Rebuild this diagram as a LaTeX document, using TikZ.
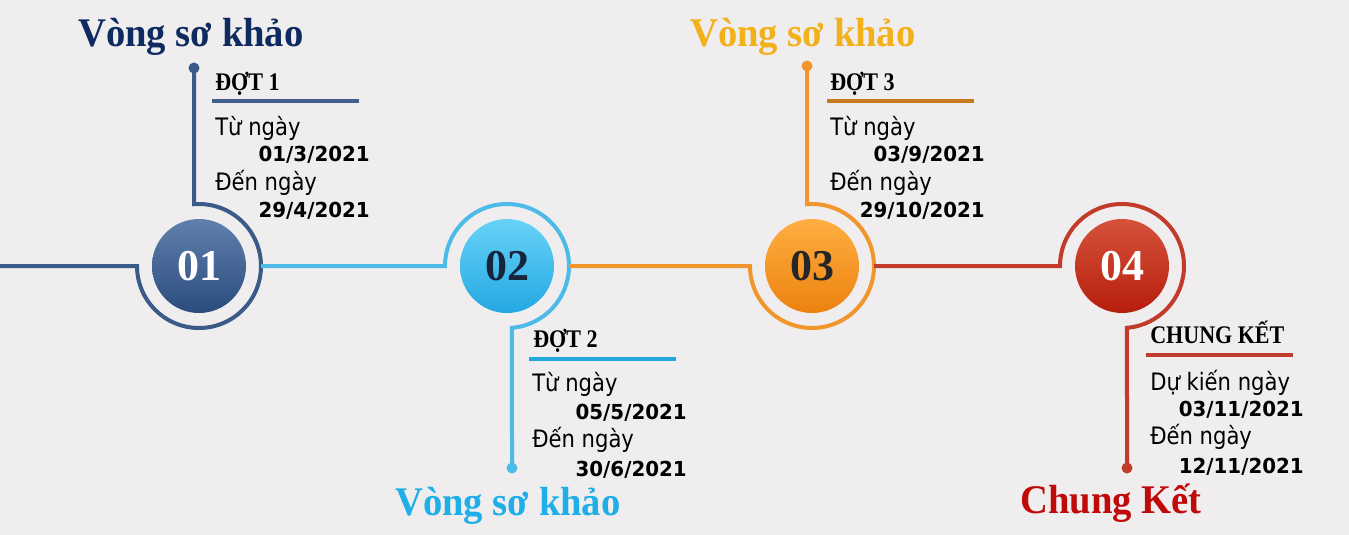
\documentclass[tikz,border=0pt]{standalone}
\usepackage{fontspec}
\setmainfont{DejaVu Sans}
\newfontfamily\serifb{Liberation Serif}
\newfontfamily\serifc[FakeStretch=0.87]{Liberation Serif}
\newfontfamily\titlef[FakeStretch=0.95]{Liberation Serif}
\newfontfamily\bodyf[FakeStretch=0.88]{DejaVu Sans}
\newfontfamily\datef[FakeStretch=0.96]{DejaVu Sans}
\usetikzlibrary{calc}
\definecolor{bgc}{HTML}{EFEDEE}
\definecolor{ca}{HTML}{3A5A88}
\definecolor{cb}{HTML}{4CBBE8}
\definecolor{cc}{HTML}{F0962C}
\definecolor{cd}{HTML}{C23A2A}
\definecolor{bara}{HTML}{3F5F8C}
\definecolor{barb}{HTML}{22A7DE}
\definecolor{barc}{HTML}{C8791F}
\definecolor{bard}{HTML}{C23A2A}
\definecolor{tta}{HTML}{0E2B60}
\definecolor{ttb}{HTML}{1EAEE8}
\definecolor{ttc}{HTML}{F2B11A}
\definecolor{ttd}{HTML}{C00A0A}
\tikzset{
  ring/.style={line width=3pt},
  bar/.style={line width=2.8pt},
  title/.style={inner sep=0pt,font=\titlef\bfseries\fontsize{30.5}{34}\selectfont},
  num/.style={circle,inner sep=0pt,minimum size=70.5pt,font=\serifb\bfseries\fontsize{33}{36}\selectfont},
  head/.style={anchor=base west,inner sep=0pt,font=\serifc\bfseries\fontsize{19}{22}\selectfont},
  body/.style={anchor=base west,inner sep=0pt,font=\bodyf\fontsize{18}{21}\selectfont},
  datetxt/.style={anchor=base east,inner sep=0pt,font=\datef\bfseries\fontsize{15.5}{19}\selectfont},
}
\begin{document}
\begin{tikzpicture}[x=0.75pt,y=-0.75pt]
\fill[bgc] (0,0) rectangle (1349,535);
\useasboundingbox (0,0) rectangle (1349,535);
% anchors
\coordinate (S) at (0,266);
\coordinate (C1) at (199,266);
\coordinate (C2) at (507,266);
\coordinate (C3) at (812,266);
\coordinate (C4) at (1122,266);
\coordinate (D1) at (194,68);
\coordinate (D2) at (512,468);
\coordinate (D3) at (807,66);
\coordinate (D4) at (1127,468);
% rings and connectors
\draw[ring,ca] (S) -- ($(C1)+(180:62)$) arc[start angle=180,end angle=-94.6,radius=62] -- (D1);
\draw[ring,cb] ($(C1)+(0:62)$) -- ($(C2)+(180:62)$) arc[start angle=180,end angle=445.4,radius=62] -- (D2);
\draw[ring,cc] ($(C2)+(0:62)$) -- ($(C3)+(180:62)$) arc[start angle=180,end angle=-94.6,radius=62] -- (D3);
\draw[ring,cd] ($(C3)+(0:62)$) -- ($(C4)+(180:62)$) arc[start angle=180,end angle=445.4,radius=62] -- (D4);
\fill[ca] (D1) circle (5.5);
\fill[cb] (D2) circle (5.5);
\fill[cc] (D3) circle (5.5);
\fill[cd] (D4) circle (5.5);
% number circles
\node[num,top color={rgb,255:red,96;green,128;blue,172},bottom color={rgb,255:red,42;green,76;blue,126},text=white] (N1) at (C1) {01};
\node[num,top color={rgb,255:red,104;green,210;blue,248},bottom color={rgb,255:red,36;green,168;blue,226},text={rgb,255:red,22;green,37;blue,60}] (N2) at (C2) {02};
\node[num,top color={rgb,255:red,255;green,174;blue,66},bottom color={rgb,255:red,236;green,130;blue,14},text={rgb,255:red,38;green,38;blue,38}] (N3) at (C3) {03};
\node[num,top color={rgb,255:red,214;green,82;blue,58},bottom color={rgb,255:red,182;green,30;blue,12},text=white] (N4) at (C4) {04};
% titles
\node[title,anchor=base west,text=tta] (T1) at (78,47) {Vòng sơ khảo};
\node[title,anchor=base west,text=ttb] (T2) at (395,515) {Vòng sơ khảo};
\node[title,anchor=base west,text=ttc] (T3) at (690,47) {Vòng sơ khảo};
\node[title,anchor=base west,text=ttd] (T4) at (1020,513) {Chung Kết};
% block 1
\node[head] (H1) at (215,90) {ĐỢT 1};
\coordinate (B1a) at (212,101); \coordinate (B1b) at (359,101);
\draw[bar,bara] (B1a) -- (B1b);
\node[body] (F1) at (215,135) {Từ ngày};
\node[datetxt] (F1d) at (370,161) {01/3/2021};
\node[body] (E1) at (215,190) {Đến ngày};
\node[datetxt] (E1d) at (370,217) {29/4/2021};
% block 2
\node[head] (H2) at (533,347) {ĐỢT 2};
\coordinate (B2a) at (529,359); \coordinate (B2b) at (676,359);
\draw[bar,barb] (B2a) -- (B2b);
\node[body] (F2) at (532,391) {Từ ngày};
\node[datetxt] (F2d) at (687,419) {05/5/2021};
\node[body] (E2) at (532,447) {Đến ngày};
\node[datetxt] (E2d) at (687,476) {30/6/2021};
% block 3
\node[head] (H3) at (830,90) {ĐỢT 3};
\coordinate (B3a) at (827,101); \coordinate (B3b) at (974,101);
\draw[bar,barc] (B3a) -- (B3b);
\node[body] (F3) at (830,135) {Từ ngày};
\node[datetxt] (F3d) at (985,161) {03/9/2021};
\node[body] (E3) at (830,190) {Đến ngày};
\node[datetxt] (E3d) at (985,217) {29/10/2021};
% block 4
\node[head] (H4) at (1150,343) {CHUNG KẾT};
\coordinate (B4a) at (1146,355); \coordinate (B4b) at (1293,355);
\draw[bar,bard] (B4a) -- (B4b);
\node[body] (F4) at (1150,390) {Dự kiến ngày};
\node[datetxt] (F4d) at (1304,416) {03/11/2021};
\node[body] (E4) at (1150,444) {Đến ngày};
\node[datetxt] (E4d) at (1304,473) {12/11/2021};
\end{tikzpicture}
\end{document}
